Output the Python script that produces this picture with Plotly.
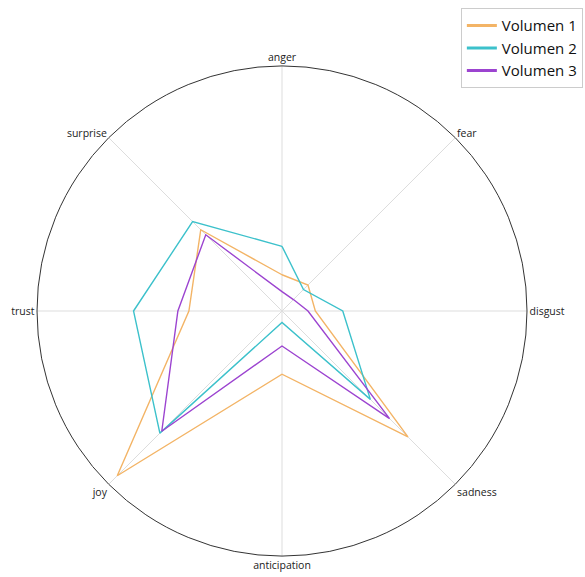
import plotly.graph_objects as go

categories = ["anger", "fear", "disgust", "sadness", "anticipation", "joy", "trust", "surprise"]
volumen_1 = [0.148, 0.150, 0.136, 0.727, 0.258, 0.951, 0.380, 0.469]
volumen_2 = [0.264, 0.124, 0.248, 0.510, 0.047, 0.705, 0.606, 0.516]
volumen_3 = [0.079, 0.066, 0.106, 0.621, 0.143, 0.694, 0.425, 0.440]
series_names = ["Volumen 1", "Volumen 2", "Volumen 3"]
series_colors = ["#F3B466", "#3CC1CB", "#9C44D0"]

fig = go.Figure()
for name, vals, col in zip(series_names, [volumen_1, volumen_2, volumen_3], series_colors):
    fig.add_trace(go.Scatterpolar(
        r=vals + vals[:1], theta=categories + categories[:1],
        mode="lines", line=dict(color=col, width=1.4),
        name=name, showlegend=False, hoverinfo="skip"))
# legend entries with thicker sample lines
for name, col in zip(series_names, series_colors):
    fig.add_trace(go.Scatterpolar(
        r=[None], theta=[categories[0]], mode="lines",
        line=dict(color=col, width=3), name=name, showlegend=True))

fig.update_layout(
    width=585, height=577,
    margin=dict(l=37, r=58, t=66, b=21, autoexpand=False),
    paper_bgcolor="white", plot_bgcolor="white",
    font=dict(family="Open Sans, Noto Sans, sans-serif", color="#222"),
    polar=dict(
        bgcolor="white",
        domain=dict(x=[0, 1], y=[0, 1]),
        radialaxis=dict(visible=False, range=[0, 1]),
        angularaxis=dict(
            rotation=90, direction="clockwise",
            categoryorder="array", categoryarray=categories,
            linecolor="#333", linewidth=1,
            gridcolor="#dddddd", gridwidth=1,
            ticks="", tickfont=dict(size=10.5, color="#222"),
            showline=True,
        ),
    ),
    legend=dict(
        x=1.114, y=1.118, xanchor="right", yanchor="top",
        bordercolor="#cccccc", borderwidth=1, bgcolor="white",
        font=dict(size=15, color="#111"),
        itemwidth=30, tracegroupgap=0,
    ),
)

fig.write_html("out.html", config={"displayModeBar": False},
               post_script="document.body.style.margin='0';document.body.style.overflow='hidden';")
